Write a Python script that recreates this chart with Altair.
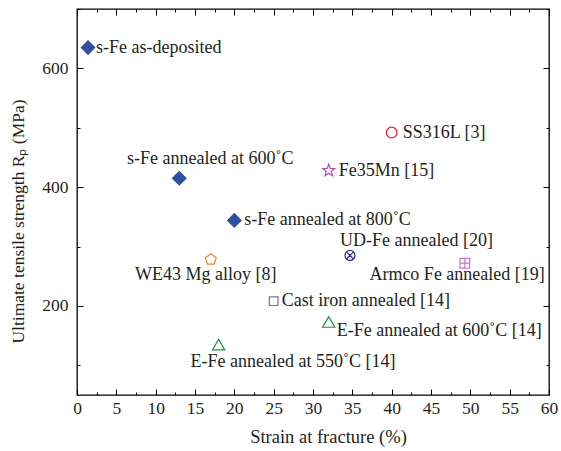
import math
import altair as alt
import pandas as pd

# ---------------- data ----------------
names = [
    "s-Fe as-deposited",
    "s-Fe annealed at 600˚C",
    "s-Fe annealed at 800˚C",
    "WE43 Mg alloy [8]",
    "Cast iron annealed [14]",
    "E-Fe annealed at 600˚C [14]",
    "E-Fe annealed at 550˚C [14]",
    "SS316L [3]",
    "Fe35Mn [15]",
    "UD-Fe annealed [20]",
    "Armco Fe annealed [19]",
]
strain = [1.4, 13.0, 20.0, 17.0, 25.0, 32.0, 18.0, 40.0, 32.0, 34.7, 49.3]
uts = [635, 415, 344, 279, 208, 173, 135, 492, 428, 285, 272]

x_major = [0, 5, 10, 15, 20, 25, 30, 35, 40, 45, 50, 55, 60]
x_minor = [2.5, 7.5, 12.5, 17.5, 22.5, 27.5, 32.5, 37.5, 42.5, 47.5, 52.5, 57.5]
y_major = [200, 400, 600]
y_minor = [100, 300, 500, 700]

# ---------------- marker glyphs ----------------
def poly_path(points):
    return "M" + " L".join(f"{px:.3f},{py:.3f}" for px, py in points) + " Z"

star_pts = []
for k in range(10):
    r = 1.0 if k % 2 == 0 else 0.42
    a = math.radians(-90 + 36 * k)
    star_pts.append((r * math.cos(a), r * math.sin(a)))
STAR = poly_path(star_pts)
PENT = poly_path([(math.cos(math.radians(-90 + 72 * k)),
                   math.sin(math.radians(-90 + 72 * k)) + 0.1) for k in range(5)])
CIRCX = ("M1,0 A1,1 0 1,1 -1,0 A1,1 0 1,1 1,0 Z "
         "M-0.707,-0.707 L0.707,0.707 M-0.707,0.707 L0.707,-0.707")
SQPLUS = "M-1,-1 L1,-1 L1,1 L-1,1 Z M0,-1 L0,1 M-1,0 L1,0"

BLUE = "#2f4fa2"
style = {  # name: (shape, stroke, fill, size)
    names[0]: ("diamond", BLUE, BLUE, 180),
    names[1]: ("diamond", BLUE, BLUE, 180),
    names[2]: ("diamond", BLUE, BLUE, 180),
    names[3]: (PENT, "#f0821e", "transparent", 130),
    names[4]: ("square", "#7a6ab4", "transparent", 75),
    names[5]: ("triangle-up", "#1f9148", "transparent", 150),
    names[6]: ("triangle-up", "#1f9148", "transparent", 150),
    names[7]: ("circle", "#e8202a", "transparent", 115),
    names[8]: (STAR, "#b54aa8", "transparent", 160),
    names[9]: (CIRCX, "#2b2f86", "transparent", 100),
    names[10]: (SQPLUS, "#c878c8", "transparent", 95),
}
placement = {  # name: (align, dx, dy)
    names[0]: ("left", 8, 0),
    names[1]: ("center", 31, -19),
    names[2]: ("left", 10, 0),
    names[3]: ("center", -5, 16),
    names[4]: ("left", 8, 0),
    names[5]: ("left", 8, 9),
    names[6]: ("left", -28, 17),
    names[7]: ("left", 11, 0),
    names[8]: ("left", 10, 0),
    names[9]: ("left", -10, -14),
    names[10]: ("right", 80, 12),
}

df = pd.DataFrame({"name": names, "strain": strain, "uts": uts})

FONT = "Liberation Serif"
TXT = "#231f20"
xs = alt.Scale(domain=[0, 60], nice=False, zero=False)
ys = alt.Scale(domain=[50, 700], nice=False, zero=False)


def xaxis(orient, values, size, labels=False, title=None):
    kw = dict(orient=orient, values=values, offset=-size, tickSize=size,
              domain=False, grid=False, labels=labels)
    if labels:
        kw.update(labelPadding=4, labelFlush=False)
    if title:
        kw.update(title=title, titlePadding=11, titleX=251, titleAlign="center",
                  titleFontSize=18.5)
    else:
        kw.update(title=None)
    return alt.Axis(**kw)


def yaxis(orient, values, size, labels=False, title=None):
    kw = dict(orient=orient, values=values, offset=-size, tickSize=size,
              domain=False, grid=False, labels=labels)
    if labels:
        kw.update(labelPadding=9, labelFlush=False)
    if title:
        kw.update(title=title, titlePadding=14, titleY=212, titleAlign="center",
                  titleFontSize=17.5)
    else:
        kw.update(title=None)
    return alt.Axis(**kw)


def ordinal(rng):
    return alt.Scale(type="ordinal", domain=names, range=rng)


points = alt.Chart(df).mark_point(opacity=1, strokeWidth=1.2).encode(
    x=alt.X("strain:Q", scale=xs,
            axis=xaxis("bottom", x_major, 6, labels=True, title="Strain at fracture (%)")),
    y=alt.Y("uts:Q", scale=ys,
            axis=yaxis("left", y_major, 6, labels=True,
                       title="Ultimate tensile strength Rₚ (MPa)")),
    shape=alt.Shape("name:N", scale=ordinal([style[n][0] for n in names]), legend=None),
    stroke=alt.Stroke("name:N", scale=ordinal([style[n][1] for n in names]), legend=None),
    fill=alt.Fill("name:N", scale=ordinal([style[n][2] for n in names]), legend=None),
    size=alt.Size("name:N", scale=ordinal([style[n][3] for n in names]), legend=None),
)

extra_axes = [
    (xaxis("bottom", x_minor, 3), yaxis("left", y_minor, 3)),
    (xaxis("top", x_major, 6), yaxis("right", y_major, 6)),
    (xaxis("top", x_minor, 3), yaxis("right", y_minor, 3)),
]

layers = [points]
for i, n in enumerate(names):
    align, dx, dy = placement[n]
    if i < len(extra_axes):
        ax_x, ax_y = extra_axes[i]
    else:
        ax_x, ax_y = None, None
    xenc = alt.X("strain:Q", scale=xs, axis=ax_x)
    yenc = alt.Y("uts:Q", scale=ys, axis=ax_y)
    t = alt.Chart(df).transform_filter(alt.datum.name == n).mark_text(
        align=align, baseline="middle", dx=dx, dy=dy,
        font=FONT, fontSize=18, color=TXT,
    ).encode(x=xenc, y=yenc, text="name:N")
    layers.append(t)

chart = alt.layer(*layers).resolve_axis(x="independent", y="independent").properties(
    width=472, height=386,
    autosize=alt.AutoSizeParams(type="none"),
    padding={"left": 77, "top": 9, "right": 12, "bottom": 56},
    background="white",
).configure_view(stroke="black", strokeWidth=1.3).configure_axis(
    labelFont=FONT, titleFont=FONT, labelFontSize=17.5, titleFontSize=18.5,
    labelColor=TXT, titleColor=TXT, titleFontWeight="normal",
    tickColor="black", tickWidth=1,
)

chart.save("out.html", embed_options={"renderer": "svg", "actions": False})
